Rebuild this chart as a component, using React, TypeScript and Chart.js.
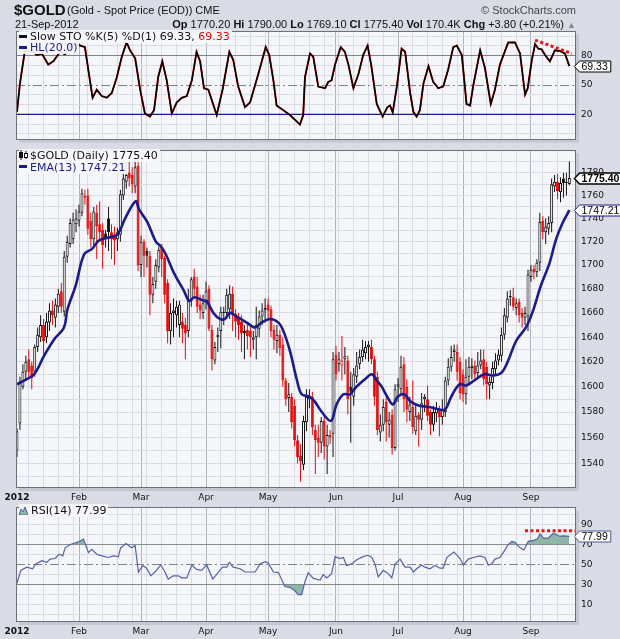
import React, { useEffect, useRef } from 'react';
import { Chart, registerables } from 'chart.js';

Chart.register(...registerables);

// ---------- categories / ticks ----------
const monthIdx = [0, 21, 42, 64, 85, 108, 129, 151, 174];
const monthLabels = ['2012', 'Feb', 'Mar', 'Apr', 'May', 'Jun', 'Jul', 'Aug', 'Sep'];
const weekIdx = [4, 9, 14, 19, 24, 29, 34, 39, 44, 49, 54, 59, 64, 69, 74, 79, 84, 89, 94, 99, 104, 109, 114, 119, 124, 129, 134, 139, 144, 149, 154, 159, 164, 169, 178, 183];
const X_MIN = -0.33;
const X_MAX = 189.25;

// ---------- price (OHLC, daily) ----------
const opens = [1550, 1571, 1600, 1612, 1622, 1617, 1612, 1632, 1640, 1650, 1640, 1652, 1662, 1656, 1665, 1678, 1661, 1707, 1718, 1722, 1735, 1738, 1745, 1758, 1760, 1738, 1722, 1745, 1735, 1730, 1727, 1740, 1728, 1726, 1722, 1726, 1760, 1772, 1780, 1778, 1768, 1786, 1700, 1720, 1712, 1708, 1675, 1686, 1698, 1715, 1706, 1685, 1645, 1660, 1658, 1650, 1653, 1650, 1645, 1670, 1690, 1682, 1667, 1660, 1668, 1680, 1646, 1621, 1640, 1645, 1660, 1660, 1663, 1676, 1659, 1656, 1653, 1645, 1646, 1645, 1638, 1640, 1647, 1657, 1662, 1667, 1663, 1646, 1637, 1642, 1634, 1605, 1591, 1592, 1585, 1558, 1546, 1539, 1572, 1590, 1592, 1566, 1560, 1556, 1573, 1553, 1562, 1563, 1626, 1618, 1617, 1622, 1621, 1600, 1592, 1608, 1618, 1624, 1627, 1632, 1632, 1622, 1608, 1564, 1570, 1588, 1570, 1578, 1552, 1600, 1598, 1618, 1600, 1580, 1584, 1565, 1578, 1574, 1590, 1590, 1580, 1570, 1579, 1582, 1576, 1580, 1605, 1616, 1628, 1628, 1620, 1610, 1594, 1608, 1615, 1617, 1611, 1617, 1622, 1616, 1601, 1603, 1614, 1621, 1625, 1642, 1656, 1674, 1673, 1664, 1669, 1660, 1656, 1657, 1690, 1697, 1694, 1702, 1738, 1728, 1731, 1736, 1768, 1772, 1763, 1775, 1771, 1770.2];
const highs = [1567, 1608, 1618, 1625, 1630, 1620, 1634, 1648, 1658, 1655, 1660, 1668, 1670, 1672, 1680, 1685, 1712, 1725, 1740, 1745, 1748, 1752, 1766, 1765, 1766, 1745, 1750, 1752, 1755, 1736, 1730, 1750, 1735, 1733, 1732, 1765, 1785, 1790, 1790, 1785, 1792, 1792, 1725, 1722, 1715, 1712, 1690, 1705, 1716, 1718, 1708, 1688, 1668, 1672, 1670, 1670, 1660, 1656, 1680, 1690, 1697, 1690, 1675, 1675, 1686, 1683, 1650, 1636, 1648, 1665, 1665, 1680, 1683, 1682, 1663, 1660, 1658, 1650, 1652, 1650, 1645, 1665, 1662, 1668, 1672, 1672, 1666, 1650, 1650, 1646, 1640, 1607, 1603, 1595, 1590, 1562, 1555, 1577, 1598, 1598, 1596, 1570, 1570, 1576, 1577, 1570, 1566, 1628, 1633, 1628, 1641, 1632, 1625, 1612, 1615, 1628, 1630, 1638, 1637, 1637, 1638, 1625, 1612, 1578, 1590, 1592, 1580, 1582, 1602, 1607, 1625, 1624, 1606, 1592, 1605, 1587, 1580, 1595, 1594, 1601, 1582, 1585, 1588, 1585, 1590, 1608, 1623, 1633, 1634, 1634, 1624, 1614, 1622, 1624, 1623, 1621, 1628, 1630, 1630, 1620, 1608, 1620, 1627, 1630, 1648, 1664, 1678, 1679, 1681, 1672, 1672, 1664, 1665, 1696, 1700, 1700, 1705, 1745, 1742, 1740, 1742, 1775, 1778, 1779, 1776, 1780, 1780, 1790];
const lows = [1545, 1566, 1598, 1605, 1606, 1598, 1608, 1628, 1636, 1625, 1635, 1645, 1650, 1648, 1660, 1660, 1657, 1702, 1715, 1718, 1728, 1733, 1742, 1752, 1726, 1715, 1715, 1705, 1720, 1697, 1715, 1712, 1705, 1700, 1712, 1720, 1756, 1766, 1768, 1762, 1762, 1695, 1690, 1690, 1698, 1658, 1668, 1680, 1694, 1690, 1668, 1635, 1634, 1640, 1648, 1640, 1635, 1622, 1640, 1665, 1672, 1660, 1655, 1655, 1663, 1645, 1613, 1618, 1628, 1631, 1650, 1655, 1655, 1645, 1640, 1638, 1628, 1622, 1630, 1624, 1630, 1622, 1640, 1650, 1652, 1655, 1640, 1630, 1627, 1625, 1600, 1585, 1580, 1567, 1553, 1540, 1526, 1535, 1565, 1583, 1562, 1532, 1545, 1548, 1543, 1532, 1555, 1545, 1605, 1612, 1605, 1610, 1578, 1556, 1585, 1603, 1614, 1620, 1622, 1620, 1618, 1585, 1562, 1557, 1565, 1557, 1560, 1547, 1550, 1588, 1594, 1580, 1572, 1573, 1563, 1562, 1553, 1566, 1580, 1573, 1562, 1565, 1572, 1561, 1570, 1576, 1601, 1612, 1620, 1605, 1590, 1588, 1586, 1603, 1606, 1606, 1607, 1614, 1601, 1590, 1590, 1598, 1610, 1617, 1620, 1638, 1652, 1666, 1662, 1658, 1652, 1648, 1650, 1645, 1686, 1688, 1690, 1695, 1722, 1718, 1726, 1728, 1763, 1757, 1754, 1758, 1760, 1769.1];
const closes = [1565, 1603, 1612, 1620, 1612, 1607, 1632, 1642, 1650, 1637, 1653, 1662, 1658, 1667, 1676, 1665, 1707, 1720, 1736, 1739, 1740, 1746, 1762, 1760, 1731, 1722, 1746, 1733, 1728, 1717, 1722, 1728, 1722, 1721, 1728, 1761, 1775, 1778, 1775, 1770, 1785, 1700, 1720, 1708, 1708, 1675, 1684, 1700, 1713, 1705, 1675, 1645, 1660, 1662, 1665, 1667, 1647, 1643, 1670, 1688, 1680, 1665, 1662, 1668, 1678, 1647, 1622, 1632, 1642, 1661, 1661, 1675, 1676, 1658, 1653, 1650, 1643, 1643, 1641, 1640, 1640, 1650, 1657, 1662, 1664, 1662, 1645, 1638, 1642, 1631, 1605, 1590, 1594, 1572, 1558, 1545, 1542, 1573, 1592, 1592, 1568, 1558, 1556, 1573, 1553, 1562, 1560, 1622, 1610, 1622, 1621, 1625, 1590, 1596, 1610, 1617, 1624, 1630, 1632, 1634, 1622, 1592, 1566, 1570, 1584, 1572, 1574, 1552, 1598, 1602, 1616, 1590, 1582, 1586, 1568, 1577, 1574, 1587, 1592, 1577, 1570, 1580, 1583, 1576, 1582, 1605, 1616, 1624, 1630, 1612, 1595, 1594, 1608, 1616, 1617, 1610, 1617, 1621, 1606, 1602, 1604, 1615, 1621, 1626, 1642, 1658, 1672, 1673, 1665, 1668, 1658, 1656, 1660, 1692, 1696, 1694, 1702, 1737, 1728, 1733, 1736, 1770, 1772, 1764, 1771, 1771, 1771.6, 1775.4];

// ---------- EMA(13) ----------
const emaIdx = [0, 2.4, 5.8, 9.2, 12.5, 15.9, 17.1, 19.9, 22.7, 25.5, 27.8, 31.7, 34, 36.8, 40.2, 41.3, 44.1, 47, 48.7, 50.4, 53.2, 56.6, 58.3, 60, 63.3, 64.2, 66.5, 68.7, 70.4, 72.1, 74.4, 77.8, 80.6, 82.8, 85.7, 88.5, 90.2, 92.5, 94.7, 96.4, 99.2, 100.9, 103.2, 106.3, 108.2, 110.5, 112.7, 114.9, 117.8, 120.1, 121.8, 123.5, 124.9, 127.2, 128.9, 131.1, 133.4, 136.2, 139.6, 143, 145, 147, 149.8, 152, 154.8, 158.2, 161, 163.9, 166.1, 169, 172.3, 174.6, 177.4, 180.2, 182.5, 184.7, 187];
const emaVal = [1602, 1605, 1610, 1625, 1638, 1648, 1663, 1683, 1709, 1714, 1721, 1724, 1726, 1741, 1755, 1748, 1737, 1720, 1716, 1709, 1693, 1678, 1670, 1673, 1670, 1670, 1660, 1655, 1655, 1660, 1657, 1652, 1648, 1652, 1655, 1652, 1645, 1628, 1606, 1594, 1592, 1588, 1580, 1573, 1586, 1594, 1594, 1600, 1606, 1610, 1605, 1600, 1594, 1586, 1592, 1594, 1588, 1585, 1584, 1582, 1582, 1592, 1602, 1601, 1605, 1610, 1609, 1611, 1620, 1637, 1648, 1661, 1683, 1701, 1722, 1736, 1747.21];

// ---------- Slow STO %K(5) %D(1) ----------
const stoIdx = [0, 1, 2.7, 5.5, 6.7, 8.4, 10.6, 12.3, 14.6, 16.3, 18.5, 20.8, 23, 24.2, 25.6, 27, 28.7, 30.4, 32.1, 33.8, 35.5, 37.1, 38.3, 40, 41.7, 43.3, 45, 46.4, 47.8, 49.2, 50.7, 52.4, 54.1, 55.8, 57.5, 59.2, 60.8, 62, 63.3, 64.8, 67.6, 69.6, 71.9, 73.2, 74.9, 77.2, 78.9, 81.7, 84.2, 85.4, 86.8, 87.9, 90.2, 92.4, 94.7, 95.8, 96.9, 97.5, 99.2, 100.3, 102, 104.3, 105.4, 106.5, 107.7, 109.6, 111, 112.2, 113.9, 115.6, 117.2, 118.7, 119.9, 121.8, 123.8, 125.4, 126.3, 127.2, 128.6, 130.2, 131.4, 133.1, 134.2, 135.3, 136.4, 137.6, 139.3, 140.9, 142.6, 144.3, 146, 147.7, 148.9, 150.6, 152.2, 153.4, 154.5, 156.8, 158.4, 160.4, 161.8, 163.5, 166.3, 168.6, 170.3, 172, 172.9, 174.3, 175.4, 176.5, 177.6, 178.8, 180.4, 182.1, 183.8, 185.5, 187];
const stoVal = [22.5, 51.5, 85.4, 83.9, 80.6, 82.2, 70.9, 74.2, 83.9, 81.3, 91.9, 90.9, 88.7, 64.5, 37, 45.2, 38.7, 37, 41.9, 58, 79, 93.5, 85.4, 77.4, 45.2, 21, 17.7, 24.2, 58, 74.2, 54.8, 21, 32.2, 37, 38.7, 54.8, 83.9, 74.2, 46.7, 45.2, 19.3, 45.2, 83.9, 75.7, 48.4, 27.4, 32.2, 61.2, 88.7, 80.6, 54.8, 29, 24.2, 19.3, 12.8, 9.6, 19.3, 58, 82.2, 79, 48.4, 46.7, 53.2, 54.8, 70.9, 88.7, 83.9, 70.9, 46.7, 61.2, 80.6, 90.3, 70.9, 30.6, 17.7, 27.4, 29, 22, 48.4, 87.1, 83.9, 41.9, 22.5, 17.7, 24.2, 51.5, 69.3, 53.2, 46.7, 48.4, 66.1, 88.7, 90.3, 80.6, 30.6, 29, 50, 85.4, 67.7, 30.6, 45.2, 70.9, 93.5, 93.5, 82.2, 40.3, 46.7, 75.7, 91.9, 87.1, 86.5, 80.6, 74.2, 85.4, 84.8, 82.2, 69.33];
const stoLevel = 20;
const stoTrendIdx = [175.4, 187.8];
const stoTrendVal = [95.9, 82.2];

// ---------- RSI(14) ----------
const rsiIdx = [0, 1.3, 3.3, 5.3, 6.4, 8.4, 10.1, 11.2, 12.9, 14.3, 15.5, 16.3, 18, 19.6, 21.3, 22.5, 23, 24.2, 25.3, 27, 28.7, 30.9, 32.6, 34.3, 35.1, 36.9, 38.8, 40, 41.1, 42.6, 43.9, 45.3, 46.7, 48.7, 50.1, 51.2, 52.9, 54.6, 55.8, 57.5, 59.2, 60.8, 62.5, 64.2, 66.3, 67.8, 69.6, 71, 71.9, 73.2, 75.5, 77.2, 80.6, 82.3, 84, 85.1, 86.8, 88.5, 90.7, 92.4, 94.1, 95.2, 96.4, 97.5, 98.6, 100.3, 102.6, 103.7, 104.9, 106.5, 107.7, 109.4, 110.5, 111.6, 113.3, 115, 117.2, 118.9, 120.1, 121.2, 122.3, 124, 125.7, 126.9, 128, 129.7, 131.4, 133.1, 134.2, 135.3, 137, 138.1, 139.8, 141.5, 143.2, 144.3, 145.5, 147.9, 150, 151.1, 152.8, 154.5, 156.7, 158.4, 159.6, 160.7, 161.8, 163.5, 164.6, 166.3, 167.5, 168.6, 170.3, 171.6, 173.1, 174.8, 176.2, 177.1, 178.2, 179.9, 181.6, 182.7, 183.8, 184.9, 187];
const rsiVal = [31.4, 44.2, 47.4, 45.8, 50.6, 53.8, 52.2, 55.4, 56, 60.2, 58.6, 66.6, 69.8, 71.4, 73, 75.3, 71.4, 61.8, 65, 60.2, 58.6, 57, 58.6, 57.9, 66.6, 70.8, 66.6, 68.8, 42.6, 49, 46.4, 38.8, 42.6, 49.6, 42.6, 35.6, 38.8, 38.8, 36.8, 36.8, 49.6, 45.2, 44.2, 49.6, 35.6, 41, 47.4, 47.4, 52.2, 47.4, 45.8, 42.6, 42.6, 50.6, 52.9, 51.5, 42.6, 42, 28.2, 27.2, 24, 20.2, 20.2, 33, 42, 36.2, 34.6, 40, 36.8, 41, 57.9, 56, 57, 49, 50.6, 54.8, 57.9, 59.2, 57, 50.6, 37.8, 44.2, 41, 36.8, 50.6, 55.4, 47.4, 47.4, 42.6, 45.8, 49.6, 47.4, 45.8, 49, 46.4, 46.4, 57, 62.5, 56, 49.6, 55.4, 57, 58.6, 57, 49.6, 50.6, 55.4, 57, 61.8, 69.8, 73, 72.1, 66.6, 64.4, 73, 74, 75.3, 80.4, 76.3, 76.3, 81.1, 79.5, 77.9, 78.5, 77.99];
const rsiTrendIdx = [172, 189.3];
const rsiTrendVal = [83.6, 83.6];

// ---------- y tick lists ----------
const stoGrid = [0, 10, 20, 30, 40, 50, 60, 70, 80, 90, 100];
const stoLabels = [20, 50, 80];
const priceGrid = [1530, 1540, 1550, 1560, 1570, 1580, 1590, 1600, 1610, 1620, 1630, 1640, 1650, 1660, 1670, 1680, 1690, 1700, 1710, 1720, 1730, 1740, 1750, 1760, 1770, 1780, 1790];
const priceLabels = [1540, 1560, 1580, 1600, 1620, 1640, 1660, 1680, 1700, 1720, 1740, 1760, 1780];
const rsiGrid = [0, 10, 20, 30, 40, 50, 60, 70, 80, 90, 100];
const rsiLabels = [10, 30, 50, 70, 90];

// ---------- styles ----------
const FONT = '"DejaVu Sans", Verdana, sans-serif';
const HFONT = '"Liberation Sans", Arial, sans-serif';
const OUTER_BG = '#d9dce5';
const PANEL_BG = '#f5f6fa';
const GRID_MINOR = '#d9dce4';
const GRID_MAJOR = '#b0b4be';
const LEVEL = '#80838c';
const BORDER = '#6c707a';
const RED = '#e10c0c';
const BLACK = '#111111';
const NAVY = '#1b1b8c';
const RSI_C = '#5462a6';
const GREEN = '#8db6a7';

type Tag = { value: number; text: string; color: string; bold?: boolean; lw?: number };

function panelPlugin(tags: Tag[]) {
  return {
    id: 'panelDeco',
    beforeDraw(chart: any) {
      const { ctx, chartArea: a } = chart;
      ctx.save();
      ctx.fillStyle = '#c4c8d2';
      ctx.fillRect(a.left + 3, a.top + 3, a.right - a.left, a.bottom - a.top);
      ctx.fillStyle = PANEL_BG;
      ctx.fillRect(a.left, a.top, a.right - a.left, a.bottom - a.top);
      ctx.restore();
    },
    afterDraw(chart: any) {
      const { ctx, chartArea: a } = chart;
      ctx.save();
      ctx.strokeStyle = BORDER;
      ctx.lineWidth = 1;
      ctx.strokeRect(Math.round(a.left) + 0.5, Math.round(a.top) + 0.5, Math.round(a.right - a.left) - 1, Math.round(a.bottom - a.top) - 1);
      for (const t of tags) {
        const y = Math.round(chart.scales.y.getPixelForValue(t.value)) + 0.5;
        const x = Math.round(a.right) - 1.5;
        ctx.font = (t.bold ? 'bold ' : '') + '10.5px ' + HFONT;
        const w = ctx.measureText(t.text).width + 5;
        const h = 11;
        ctx.beginPath();
        ctx.moveTo(x, y);
        ctx.lineTo(x + 5, y - h / 2);
        ctx.lineTo(x + 5 + w, y - h / 2);
        ctx.lineTo(x + 5 + w, y + h / 2);
        ctx.lineTo(x + 5, y + h / 2);
        ctx.closePath();
        ctx.fillStyle = '#ffffff';
        ctx.fill();
        ctx.lineWidth = t.lw || 1;
        ctx.strokeStyle = t.color;
        ctx.stroke();
        ctx.fillStyle = '#000';
        ctx.textBaseline = 'middle';
        ctx.textAlign = 'left';
        ctx.fillText(t.text, x + 7, y + 0.5);
      }
      ctx.restore();
    },
  };
}

const xTicks = Array.from(new Set([...monthIdx, ...weekIdx])).sort((a, b) => a - b);

function xScale(showLabels: boolean, height: number) {
  return {
    type: 'linear',
    min: X_MIN,
    max: X_MAX,
    offset: false,
    afterBuildTicks: (s: any) => {
      s.ticks = xTicks.map((v) => ({ value: v }));
    },
    afterFit: (s: any) => {
      s.height = height;
    },
    ticks: {
      display: showLabels,
      autoSkip: false,
      maxRotation: 0,
      minRotation: 0,
      padding: 4,
      color: '#111',
      font: (c: any) => ({ family: FONT, size: 9, weight: c.tick && c.tick.value === 0 ? 'bold' : 'normal' }),
      callback: (v: any) => {
        const k = monthIdx.indexOf(Number(v));
        return k >= 0 ? monthLabels[k] : '';
      },
    },
    grid: {
      drawTicks: false,
      offset: false,
      lineWidth: 1,
      color: (c: any) => {
        const v = c.tick ? c.tick.value : -1;
        if (v === 0) return 'rgba(0,0,0,0)';
        return monthIdx.includes(v) ? GRID_MAJOR : GRID_MINOR;
      },
    },
    border: { display: false },
  };
}

function yScale(type: string, min: number, max: number, grid: number[], labels: number[], solid: number[], dashed: number[]) {
  return {
    type,
    position: 'right',
    min,
    max,
    afterBuildTicks: (s: any) => {
      s.ticks = grid.map((v) => ({ value: v }));
    },
    afterFit: (s: any) => {
      s.width = 44;
    },
    ticks: {
      autoSkip: false,
      padding: 5,
      color: '#111',
      font: { family: FONT, size: 9 },
      callback: (v: any) => (labels.includes(Number(v)) ? String(v) : ''),
    },
    grid: {
      drawTicks: false,
      color: (c: any) => {
        const v = c.tick ? c.tick.value : -1;
        return solid.includes(v) || dashed.includes(v) ? LEVEL : GRID_MINOR;
      },
    },
    border: {
      display: false,
      dash: (c: any) => (c.tick && dashed.includes(c.tick.value) ? [9, 3, 2, 3] : []),
    },
  };
}

const baseOpts = (pad: any) => ({
  responsive: false,
  animation: false,
  events: [],
  layout: { padding: pad },
  plugins: { legend: { display: false }, tooltip: { enabled: false } },
});

const pts = (xs: number[], ys: number[]) => xs.map((x, k) => ({ x, y: ys[k] }));

function stoConfig(): any {
  return {
    type: 'line',
    data: {
      datasets: [
        { data: pts([X_MIN, X_MAX], [stoLevel, stoLevel]), borderColor: NAVY, borderWidth: 1.3, pointRadius: 0, order: 3 },
        { data: pts(stoIdx, stoVal), borderColor: '#a00808', borderWidth: 1.9, pointRadius: 0, order: 2 },
        { data: pts(stoIdx, stoVal), borderColor: '#000000', borderWidth: 1.4, pointRadius: 0, order: 1 },
        { data: pts(stoTrendIdx, stoTrendVal), borderColor: '#ee1111', borderWidth: 3, borderDash: [3, 2.5], pointRadius: 0, order: 0 },
      ],
    },
    options: {
      ...baseOpts({ left: 16, top: 31, right: 0, bottom: 3 }),
      scales: {
        x: xScale(false, 0),
        y: yScale('linear', -5.8, 105.2, stoGrid, stoLabels, [80], [50]),
      },
    },
    plugins: [panelPlugin([{ value: 69.33, text: '69.33', color: '#000' }])],
  };
}

function priceConfig(): any {
  const n = closes.length;
  const idx = Array.from({ length: n }, (_, i) => i);
  const col = idx.map((i) => (closes[i] < (i > 0 ? closes[i - 1] : opens[i]) ? RED : BLACK));
  const fill = idx.map((i) => (closes[i] >= opens[i] ? '#ffffff' : col[i]));
  return {
    type: 'bar',
    data: {
      datasets: [
        { type: 'line', data: pts(emaIdx, emaVal), borderColor: NAVY, borderWidth: 2.6, pointRadius: 0, tension: 0.35, order: 0 },
        {
          type: 'bar',
          data: idx.map((i) => ({ x: i, y: [opens[i], closes[i]] })),
          backgroundColor: fill,
          borderColor: col,
          borderWidth: 1,
          borderSkipped: false,
          barThickness: 3,
          minBarLength: 1,
          grouped: false,
          inflateAmount: 0,
          order: 1,
        },
        {
          type: 'bar',
          data: idx.map((i) => ({ x: i, y: [lows[i], highs[i]] })),
          backgroundColor: col,
          borderWidth: 0,
          barThickness: 1,
          grouped: false,
          inflateAmount: 0,
          order: 2,
        },
      ],
    },
    options: {
      ...baseOpts({ left: 16, top: 7, right: 0, bottom: 0 }),
      scales: {
        x: xScale(true, 15),
        y: yScale('logarithmic', 1521.3, 1800, priceGrid, priceLabels, [], []),
      },
    },
    plugins: [
      panelPlugin([
        { value: 1775.4, text: '1775.40', color: '#000', bold: true, lw: 1.5 },
        { value: 1747.21, text: '1747.21', color: NAVY },
      ]),
    ],
  };
}

function rsiConfig(): any {
  const p = pts(rsiIdx, rsiVal);
  const clear = 'rgba(0,0,0,0)';
  return {
    type: 'line',
    data: {
      datasets: [
        { data: p, borderColor: RSI_C, borderWidth: 1.2, pointRadius: 0, fill: false, order: 0 },
        { data: p, borderColor: clear, borderWidth: 0, pointRadius: 0, fill: { target: { value: 70 }, above: GREEN, below: clear }, order: 2 },
        { data: p, borderColor: clear, borderWidth: 0, pointRadius: 0, fill: { target: { value: 30 }, above: clear, below: GREEN }, order: 2 },
        { data: pts(rsiTrendIdx, rsiTrendVal), borderColor: '#ee1111', borderWidth: 3, borderDash: [3, 2.5], pointRadius: 0, order: 0 },
      ],
    },
    options: {
      ...baseOpts({ left: 16, top: 6, right: 0, bottom: 0 }),
      scales: {
        x: xScale(true, 17),
        y: yScale('linear', -7, 106.7, rsiGrid, rsiLabels, [70, 30], [50]),
      },
    },
    plugins: [panelPlugin([{ value: 77.99, text: '77.99', color: '#4a5a9a' }])],
  };
}

const abs = (l: number, t: number, extra: any = {}) => ({ position: 'absolute' as const, left: l, top: t, whiteSpace: 'nowrap' as const, ...extra });

function Dash({ color }: { color: string }) {
  return <span style={{ display: 'inline-block', width: 8, height: 3, background: color, verticalAlign: 'middle', marginRight: 3, marginTop: -2 }} />;
}

export default function App() {
  const stoRef = useRef<HTMLCanvasElement>(null);
  const priceRef = useRef<HTMLCanvasElement>(null);
  const rsiRef = useRef<HTMLCanvasElement>(null);

  useEffect(() => {
    const charts = [
      new Chart(stoRef.current as HTMLCanvasElement, stoConfig()),
      new Chart(priceRef.current as HTMLCanvasElement, priceConfig()),
      new Chart(rsiRef.current as HTMLCanvasElement, rsiConfig()),
    ];
    return () => charts.forEach((c) => c.destroy());
  }, []);

  const legendBg = 'rgba(246,247,251,0.92)';
  const lg = { fontFamily: FONT, fontSize: 11, lineHeight: '13px', color: '#111', background: legendBg, paddingRight: 2 };

  return (
    <div style={{ position: 'absolute', left: 0, top: 0, width: 620, height: 639, background: OUTER_BG, overflow: 'hidden' }}>
      <canvas ref={stoRef} width={620} height={150} style={{ position: 'absolute', left: 0, top: 0, width: 620, height: 150 }} />
      <canvas ref={priceRef} width={620} height={363} style={{ position: 'absolute', left: 0, top: 140, width: 620, height: 363 }} />
      <canvas ref={rsiRef} width={620} height={142} style={{ position: 'absolute', left: 0, top: 497, width: 620, height: 142 }} />

      {/* header */}
      <div style={abs(14, 1, { fontFamily: HFONT, fontWeight: 'bold', fontSize: 15, lineHeight: '17px', color: '#111' })}>$GOLD</div>
      <div style={abs(67, 4, { fontFamily: HFONT, fontSize: 11, lineHeight: '13px', color: '#111' })}>(Gold - Spot Price (EOD)) CME</div>
      <div style={{ position: 'absolute', right: 44, top: 4, fontFamily: HFONT, fontSize: 11, lineHeight: '13px', color: '#444', whiteSpace: 'nowrap' }}>© StockCharts.com</div>
      <div style={abs(15, 18, { fontFamily: HFONT, fontSize: 11, lineHeight: '13px', color: '#111' })}>21-Sep-2012</div>
      <div style={{ position: 'absolute', right: 44, top: 18, fontFamily: HFONT, fontSize: 11, lineHeight: '13px', color: '#111', whiteSpace: 'nowrap' }}>
        <b>Op</b> 1770.20 <b>Hi</b> 1790.00 <b>Lo</b> 1769.10 <b>Cl</b> 1775.40 <b>Vol</b> 170.4K <b>Chg</b> +3.80 (+0.21%) <span style={{ color: '#888', fontSize: 9 }}>▲</span>
      </div>

      {/* STO legend */}
      <div style={abs(19, 30, lg)}>
        <Dash color="#111" />Slow STO %K(5) %D(1) 69.33, <span style={{ color: '#e00' }}>69.33</span>
      </div>
      <div style={abs(19, 41, { ...lg, color: NAVY })}>
        <Dash color={NAVY} />HL(20.0)
      </div>

      {/* price legend */}
      <div style={abs(19, 149, lg)}>
        <svg width={9} height={10} style={{ marginRight: 2, verticalAlign: 'middle', marginTop: -2 }}>
          <line x1={2} y1={0} x2={2} y2={10} stroke="#111" />
          <rect x={0.5} y={2.5} width={3} height={5} fill="#111" stroke="#111" />
          <line x1={7} y1={1} x2={7} y2={9} stroke="#111" />
          <rect x={5.5} y={3.5} width={3} height={4} fill="#fff" stroke="#111" />
        </svg>
        $GOLD (Daily) 1775.40
      </div>
      <div style={abs(19, 160.5, { ...lg, color: NAVY })}>
        <Dash color={NAVY} />EMA(13) 1747.21
      </div>

      {/* RSI legend */}
      <div style={abs(19, 504, lg)}>
        <svg width={9} height={9} style={{ marginRight: 3, verticalAlign: 'middle', marginTop: -2 }}>
          <polygon points="0,9 2,3 4,6 6,1 9,9" fill={GREEN} stroke={RSI_C} strokeWidth={1} />
        </svg>
        RSI(14) 77.99
      </div>
    </div>
  );
}
